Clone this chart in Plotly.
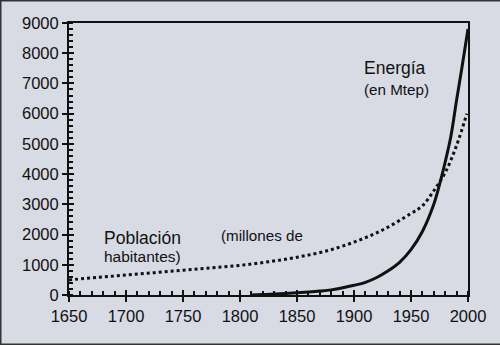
import plotly.graph_objects as go

# Data
energy_years = [1810, 1820, 1830, 1840, 1850, 1860, 1870, 1880, 1890, 1900, 1910,
                1920, 1930, 1940, 1950, 1960, 1970, 1975, 1980, 1985, 1990, 1995, 2000]
energy_mtep = [0, 15, 30, 50, 75, 100, 130, 170, 240, 320, 420,
               580, 800, 1080, 1500, 2100, 3000, 3650, 4400, 5250, 6450, 7600, 8800]

pop_years = [1650, 1675, 1700, 1725, 1750, 1775, 1800, 1825, 1850, 1875, 1900,
             1925, 1950, 1960, 1970, 1980, 1990, 1999]
pop_millions = [500, 580, 660, 740, 820, 900, 980, 1100, 1250, 1450, 1750,
                2150, 2700, 2950, 3450, 4050, 4950, 6000]

x_ticks = [1650, 1700, 1750, 1800, 1850, 1900, 1950, 2000]
y_ticks = [0, 1000, 2000, 3000, 4000, 5000, 6000, 7000, 8000, 9000]

BG = "#d8dae4"
INK = "#111111"
FONT = "Liberation Sans, Arial, sans-serif"

fig = go.Figure()
fig.add_trace(go.Scatter(x=pop_years, y=pop_millions, mode="lines",
                         line=dict(color=INK, width=3, dash="dot", shape="spline"),
                         hoverinfo="skip", showlegend=False))
fig.add_trace(go.Scatter(x=energy_years, y=energy_mtep, mode="lines",
                         line=dict(color=INK, width=3, shape="spline"),
                         hoverinfo="skip", showlegend=False))
# invisible trace for the overlay axes (inner halves of the major ticks)
fig.add_trace(go.Scatter(x=[x_ticks[0]], y=[y_ticks[0]], xaxis="x2", yaxis="y2",
                         mode="markers", marker=dict(opacity=0),
                         hoverinfo="skip", showlegend=False))

xr = [1650, 2000]
yr = [0, 9000]

fig.update_layout(
    width=500, height=345,
    margin=dict(l=69, r=32, t=23, b=50),
    paper_bgcolor=BG, plot_bgcolor=BG,
    font=dict(family=FONT, color=INK, size=16),
    xaxis=dict(range=xr, tickvals=x_ticks, ticks="outside", ticklen=5, tickwidth=2,
               tickcolor=INK, showline=True, linecolor=INK, linewidth=2, mirror=True,
               showgrid=False, zeroline=False, tickfont=dict(size=16.5),
               minor=dict(dtick=10, ticks="inside", ticklen=4, tickwidth=1.5, tickcolor=INK,
                          showgrid=False)),
    yaxis=dict(range=yr, tickvals=y_ticks, ticks="outside", ticklen=5, tickwidth=2,
               tickcolor=INK, showline=True, linecolor=INK, linewidth=2, mirror=True,
               showgrid=False, zeroline=False, tickfont=dict(size=16.5),
               minor=dict(dtick=200, ticks="inside", ticklen=4, tickwidth=1.5, tickcolor=INK,
                          showgrid=False)),
    xaxis2=dict(range=xr, overlaying="x", tickvals=x_ticks, ticks="inside", ticklen=5,
                tickwidth=2, tickcolor=INK, showticklabels=False, showline=False,
                showgrid=False, zeroline=False, side="bottom"),
    yaxis2=dict(range=yr, overlaying="y", tickvals=y_ticks, ticks="inside", ticklen=5,
                tickwidth=2, tickcolor=INK, showticklabels=False, showline=False,
                showgrid=False, zeroline=False, side="left"),
)

annotations = [
    dict(text="Energía", x=1907.5, y=7500, size=17.5),
    dict(text="(en Mtep)", x=1907.5, y=6800, size=15.2),
    dict(text="Población", x=1679.5, y=1900, size=17.5),
    dict(text="habitantes)", x=1679.5, y=1290, size=15.5),
    dict(text="(millones de", x=1782.5, y=1970, size=15.2),
]
for a in annotations:
    fig.add_annotation(text=a["text"], x=a["x"], y=a["y"], xref="x", yref="y",
                       xanchor="left", yanchor="middle", showarrow=False,
                       font=dict(family=FONT, size=a["size"], color=INK),
                       borderpad=0)

# outer frame (left, top, bottom edges of the picture)
L = (0.5 - 69) / 399
R = (500 - 69) / 399 + 0.01
T = 1 + 22.5 / 272
B = -(344.5 - 295) / 272 + 0.0
fig.add_shape(type="path", xref="paper", yref="paper",
              path=f"M {R} {T} L {L} {T} L {L} {B} L {R} {B}",
              line=dict(color="#333333", width=2))

fig.write_html("out.html")
